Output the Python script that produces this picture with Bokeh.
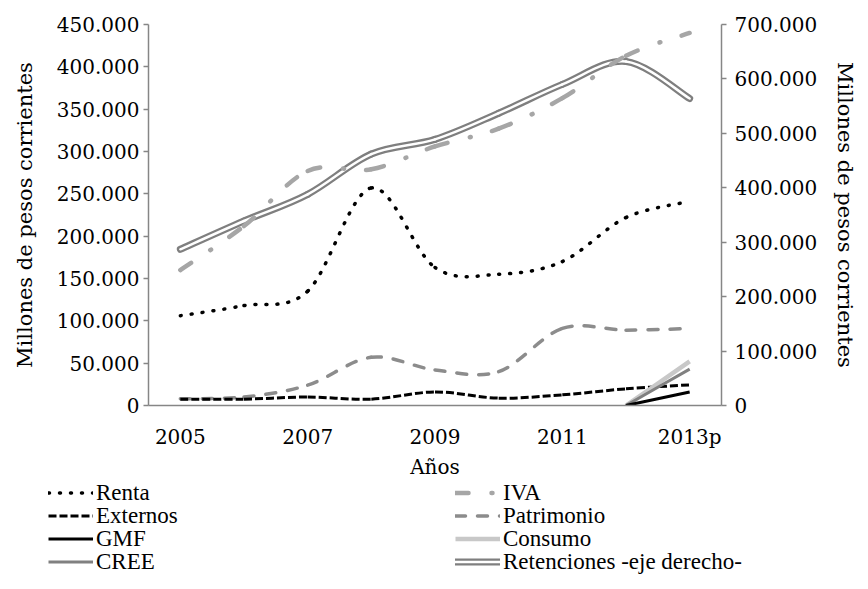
from bokeh.plotting import figure
from bokeh.layouts import column
from bokeh.models import (Range1d, LinearAxis, FixedTicker, Legend, LegendItem, ColumnDataSource)
from bokeh.embed import file_html
from bokeh.resources import INLINE

# ---------------- data ----------------
years = ["2005", "2006", "2007", "2008", "2009", "2010", "2011", "2012", "2013p"]
year_ticks = [0, 2, 4, 6, 8]
left_ticks = [0, 50000, 100000, 150000, 200000, 250000, 300000, 350000, 400000, 450000]
right_ticks = [0, 100000, 200000, 300000, 400000, 500000, 600000, 700000]

renta = [106000, 118000, 135000, 257000, 163000, 155000, 170000, 222000, 241000]
iva = [160000, 212000, 277000, 279000, 306000, 327000, 363000, 413000, 440000]
externos = [7500, 7500, 10000, 7500, 16000, 8700, 12600, 19700, 24400]
patrimonio = [8000, 10000, 24000, 57000, 42000, 40000, 91000, 89000, 91000]
gmf = [None, None, None, None, None, None, None, 0, 16000]
consumo = [None, None, None, None, None, None, None, 0, 52000]
cree = [None, None, None, None, None, None, None, 0, 43000]
retenciones = [287000, 339000, 388000, 462000, 489000, 537000, 590000, 632000, 564000]


def fmt(v):
    return f"{v:,}".replace(",", ".")


def smooth(values):
    """Bezier segments (Excel-style smoothed line) between consecutive valid points."""
    xs = list(range(len(values)))
    d = dict(x0=[], y0=[], x1=[], y1=[], cx0=[], cy0=[], cx1=[], cy1=[])
    n = len(values)
    for i in range(n - 1):
        if values[i] is None or values[i + 1] is None:
            continue
        p1 = (xs[i], values[i])
        p2 = (xs[i + 1], values[i + 1])
        p0 = (xs[i - 1], values[i - 1]) if i - 1 >= 0 and values[i - 1] is not None else p1
        p3 = (xs[i + 2], values[i + 2]) if i + 2 < n and values[i + 2] is not None else p2
        c1 = (p1[0] + (p2[0] - p0[0]) / 6.0, p1[1] + (p2[1] - p0[1]) / 6.0)
        c2 = (p2[0] - (p3[0] - p1[0]) / 6.0, p2[1] - (p3[1] - p1[1]) / 6.0)
        d["x0"].append(p1[0]); d["y0"].append(p1[1])
        d["x1"].append(p2[0]); d["y1"].append(p2[1])
        d["cx0"].append(c1[0]); d["cy0"].append(c1[1])
        d["cx1"].append(c2[0]); d["cy1"].append(c2[1])
    return ColumnDataSource(d)


SERIF = "DejaVu Serif"
LEG_FONT = "Liberation Serif, Times New Roman, DejaVu Serif, serif"
AXIS_COLOR = "#868686"

W = 860
H1 = 481
H2 = 100

p = figure(width=W, height=H1, output_backend="svg", toolbar_location=None,
           x_range=Range1d(-0.5, 8.5), y_range=Range1d(0, 450000),
           min_border_left=148, min_border_right=138, min_border_top=24,
           min_border_bottom=H1 - 405)
p.frame_align = False
p.outline_line_color = None
p.grid.visible = False
p.background_fill_color = "white"
p.border_fill_color = "white"
p.extra_y_ranges = {"right": Range1d(0, 700000)}

# axes
xa = p.xaxis[0]
xa.ticker = FixedTicker(ticks=year_ticks)
xa.major_label_overrides = {t: years[t] for t in year_ticks}
xa.axis_label = "Años"

ya = p.yaxis[0]
ya.ticker = FixedTicker(ticks=left_ticks)
ya.major_label_overrides = {t: fmt(t) for t in left_ticks}
ya.axis_label = "Millones de pesos corrientes"

yr = LinearAxis(y_range_name="right", axis_label="Millones de pesos corrientes")
yr.ticker = FixedTicker(ticks=right_ticks)
yr.major_label_overrides = {t: fmt(t) for t in right_ticks}
p.add_layout(yr, "right")

for ax in (xa, ya, yr):
    ax.axis_line_color = AXIS_COLOR
    ax.axis_line_width = 1.5
    ax.major_tick_line_color = AXIS_COLOR
    ax.major_tick_line_width = 1.5
    ax.major_tick_in = 0
    ax.major_tick_out = 5
    ax.minor_tick_line_color = None
    ax.major_label_text_font = SERIF
    ax.major_label_text_font_size = "20px"
    ax.major_label_text_color = "black"
    ax.axis_label_text_font = SERIF
    ax.axis_label_text_font_size = "21px"
    ax.axis_label_text_font_style = "normal"
    ax.axis_label_text_color = "black"

xa.major_tick_out = 0
xa.axis_label_text_font_size = "20px"
xa.major_label_standoff = 19
xa.axis_label_standoff = 3
ya.major_label_standoff = 4
ya.axis_label_standoff = 17
yr.major_label_standoff = 8
yr.axis_label_standoff = 13

BZ = dict(x0="x0", y0="y0", x1="x1", y1="y1", cx0="cx0", cy0="cy0", cx1="cx1", cy1="cy1")

# line styles
ST_PATR = dict(line_color="#8C8C8C", line_width=3.5, line_dash="10 12", line_cap="round")
ST_EXT = dict(line_color="black", line_width=3, line_dash="8 3")
ST_RENTA = dict(line_color="black", line_width=3.5, line_dash="1 10", line_cap="round")
ST_RET_O = dict(line_color="#7F7F7F", line_width=7, line_cap="round", line_join="round")
ST_RET_I = dict(line_color="white", line_width=2.5, line_cap="round", line_join="round")
ST_IVA = dict(line_color="#A6A6A6", line_width=4.5, line_dash="13 23 1 22", line_cap="round")
ST_CONS = dict(line_color="#C8C8C8", line_width=4.5)
ST_CREE = dict(line_color="#808080", line_width=3)
ST_GMF = dict(line_color="black", line_width=3)

src = dict(patr=smooth(patrimonio), ext=smooth(externos), renta=smooth(renta),
           ret=smooth(retenciones), iva=smooth(iva), cons=smooth(consumo),
           cree=smooth(cree), gmf=smooth(gmf))

# series (smoothed curves)
p.bezier(source=src["patr"], **BZ, **ST_PATR)
p.bezier(source=src["ext"], **BZ, **ST_EXT)
p.bezier(source=src["renta"], **BZ, **ST_RENTA)
p.bezier(source=src["ret"], **BZ, y_range_name="right", **ST_RET_O)
p.bezier(source=src["ret"], **BZ, y_range_name="right", **ST_RET_I)
p.bezier(source=src["iva"], **BZ, **ST_IVA)
p.bezier(source=src["cons"], **BZ, **ST_CONS)
p.bezier(source=src["cree"], **BZ, **ST_CREE)
p.bezier(source=src["gmf"], **BZ, **ST_GMF)

# ---------------- legend strip (same series as legend keys, outside its view) ----------------
q = figure(width=W, height=H2, output_backend="svg", toolbar_location=None,
           x_range=Range1d(1000, 1001), y_range=Range1d(-2e7, -1.9e7),
           x_axis_type=None, y_axis_type=None,
           min_border_left=0, min_border_right=0, min_border_top=0, min_border_bottom=0)
q.frame_align = False
q.outline_line_color = None
q.grid.visible = False
q.border_fill_color = "white"
q.background_fill_color = "white"


def key(name, *styles):
    return [q.bezier(source=src[name], **BZ, **st) for st in styles]


legend_labels = ["Renta", "Externos", "GMF", "CREE",
                 "IVA", "Patrimonio", "Consumo", "Retenciones -eje derecho-"]
legend_keys = [("renta", ST_RENTA), ("ext", ST_EXT), ("gmf", ST_GMF), ("cree", ST_CREE),
               ("iva", ST_IVA), ("patr", ST_PATR), ("cons", ST_CONS),
               ("ret", ST_RET_O, ST_RET_I)]
col_x = [48, 455]
row_c = [13, 36, 59, 82]
BOX = 23

for i, (lab, k) in enumerate(zip(legend_labels, legend_keys)):
    cx = col_x[i // 4]
    cy = row_c[i % 4]
    leg = Legend(items=[LegendItem(label=lab, renderers=key(*k))],
                 location=(cx, H2 - cy - BOX / 2))
    leg.glyph_width = 45
    leg.glyph_height = BOX
    leg.label_height = BOX
    leg.label_standoff = 3
    leg.spacing = 0
    leg.padding = 0
    leg.margin = 0
    leg.border_line_color = None
    leg.background_fill_alpha = 0
    leg.label_text_font = LEG_FONT
    leg.label_text_font_size = "23px"
    leg.label_text_color = "black"
    q.add_layout(leg, "center")

layout = column(p, q, spacing=0)
open("out.html", "w").write(file_html(layout, INLINE))
